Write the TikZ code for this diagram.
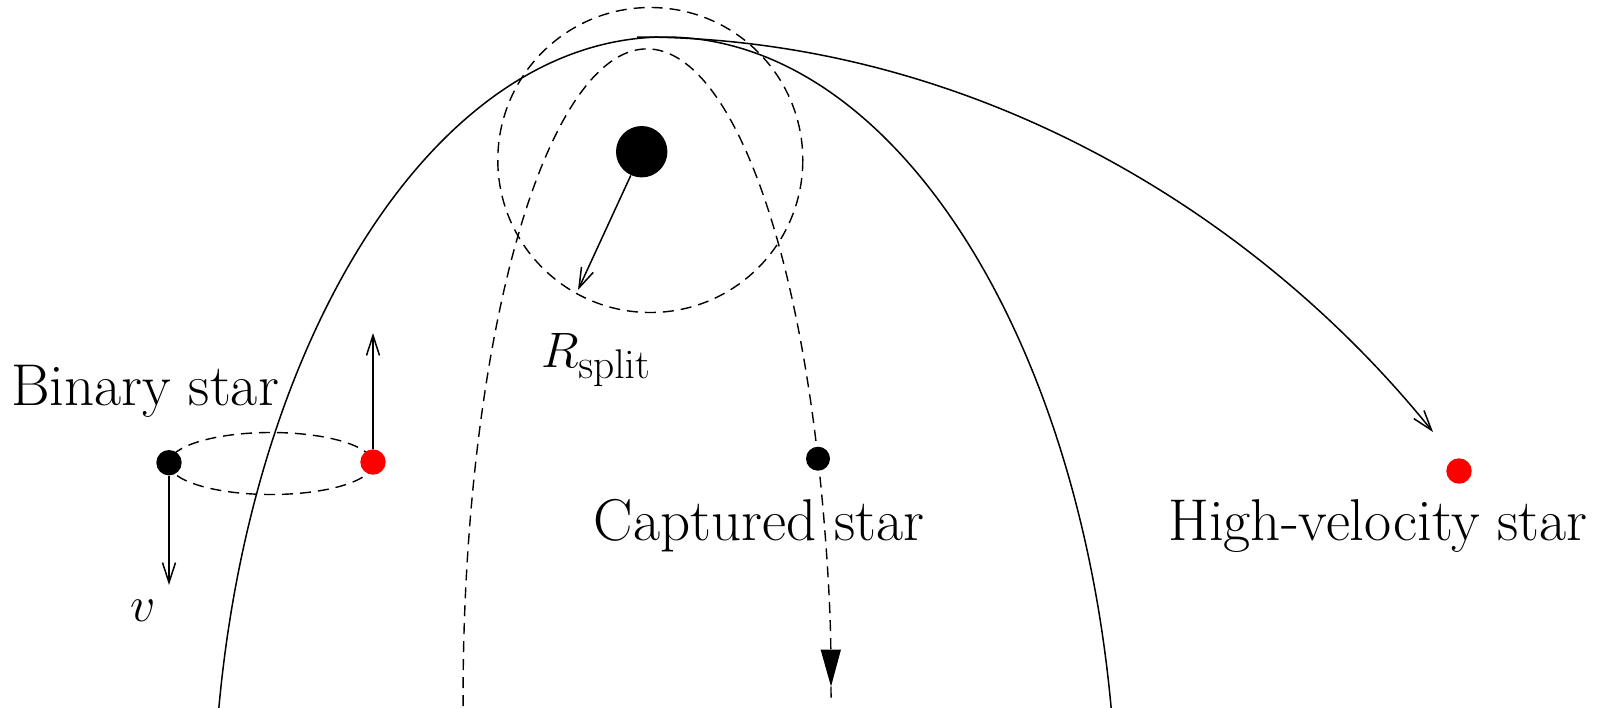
\documentclass[tikz,border=0pt]{standalone}
\usetikzlibrary{arrows.meta}
\begin{document}
\begin{tikzpicture}[x=0.5pt,y=-0.5pt,
  orbit/.style={line width=0.75pt},
  dorbit/.style={line width=0.7pt, dash pattern=on 5.5pt off 3.5pt},
  barb/.style={-{Straight Barb[length=10pt,width=6.5pt,line width=0.75pt]}},
  lbl/.style={font=\fontsize{29.5}{35}\selectfont, inner sep=0pt, anchor=base},
  starnode/.style={circle, fill=black, draw=none, inner sep=0pt, minimum size=12.7pt},
  redstar/.style={starnode, fill=red},
  holenode/.style={circle, fill=black, draw=none, inner sep=0pt, minimum size=25.7pt}]
\useasboundingbox (0,0) rectangle (1600,707);
\begin{scope}
  \clip (0,0) rectangle (1600,707);
  \draw[orbit] (665,837) ellipse[x radius=452, y radius=800];
  \draw[dorbit] (271,463.5) ellipse[x radius=102, y radius=31];
  \draw[dorbit] (650.3,160) circle[radius=152.5];
  \node[starnode, minimum size=12pt] (cap) at (818,458.7) {};
  \draw[dorbit] (cap.center) arc[start angle=338.3, end angle=178, x radius=184, y radius=650];
  \draw[dorbit, -{Triangle[length=18.5pt, width=10pt]}] (cap.center) arc[start angle=338.3, end angle=358.9, x radius=184, y radius=650] coordinate (captip);
  \draw[dorbit] (captip) arc[start angle=358.9, end angle=360, x radius=184, y radius=650];
\end{scope}
% nodes
\node[holenode] (bh) at (641.7,151.7) {};
\node[starnode] (b1) at (169,462.7) {};
\node[redstar] (b2) at (373,462) {};
\node[redstar] (hv) at (1459,471) {};
\coordinate (peri) at (637,37);
\coordinate (hvtip) at (1433,432);
\coordinate (rtip) at (578,290);
\coordinate (vtip) at (169,585);
\coordinate (uptip) at (373,333);
% connectors
\draw[orbit, barb] (peri) .. controls (967,37) and (1253,209) .. (hvtip);
\draw[orbit, barb] (bh) -- (rtip);
\draw[orbit, barb] (b1) -- (vtip);
\draw[orbit, barb] (b2) -- (uptip);
% labels
\node[lbl] (lbin) at (145,405) {Binary star};
\node[lbl] (lcap) at (759,540) {Captured star};
\node[lbl] (lhv) at (1378,540) {High-velocity star};
\node[lbl, font=\fontsize{32}{38}\selectfont] (lR) at (596,367) {$R_{\mathrm{split}}$};
\node[lbl, font=\fontsize{32}{38}\selectfont] (lv) at (143,621) {$v$};
\end{tikzpicture}
\end{document}
